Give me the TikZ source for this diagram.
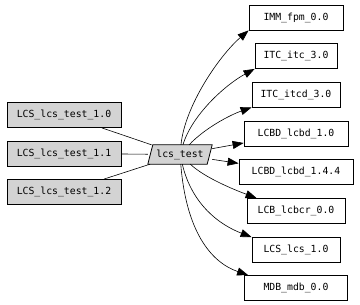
\documentclass[tikz,border=0pt]{standalone}
\usepackage{fontspec}
\setmonofont{DejaVu Sans Mono}
\usetikzlibrary{arrows.meta,backgrounds}
\definecolor{gvgray}{HTML}{D3D3D3}
\begin{document}
\begin{tikzpicture}[x=1pt,y=-1pt,
  lbl/.style={font=\ttfamily\fontsize{9.8}{12}\selectfont},
  box/.style={draw, line width=0.8pt, inner sep=0pt, minimum height=25pt, lbl},
  gbox/.style={box, fill=gvgray},
  pbox/.style={rectangle, inner sep=0pt, minimum width=64pt, minimum height=19pt, lbl},
  pshape/.style={draw, line width=0.8pt, fill=gvgray},
  edge/.style={line width=0.6pt},
  arr/.style={edge, -{Triangle[length=11pt,width=8pt]}}]
\useasboundingbox (0,0) rectangle (360,305);
% left nodes
\node[gbox, minimum width=114pt] (t10) at (64,115) {LCS\_lcs\_test\_1.0};
\node[gbox, minimum width=114pt] (t11) at (64,153.5) {LCS\_lcs\_test\_1.1};
\node[gbox, minimum width=114pt] (t12) at (64,192) {LCS\_lcs\_test\_1.2};
% center
\node[pbox] (c) at (180,154.5) {lcs\_test};
\begin{scope}[on background layer]
\path[pshape] (c.south west) -- ([xshift=-5pt]c.south east) -- (c.north east) -- ([xshift=5pt]c.north west) -- cycle;
\end{scope}
% right nodes
\node[box, minimum width=94pt] (imm) at (296,17.5) {IMM\_fpm\_0.0};
\node[box, minimum width=82pt] (itc) at (296,56) {ITC\_itc\_3.0};
\node[box, minimum width=88pt] (itcd) at (296,94.5) {ITC\_itcd\_3.0};
\node[box, minimum width=104pt] (lcbda) at (296,133.5) {LCBD\_lcbd\_1.0};
\node[box, minimum width=114pt] (lcbdb) at (296,172) {LCBD\_lcbd\_1.4.4};
\node[box, minimum width=98pt] (lcbcr) at (296,211) {LCB\_lcbcr\_0.0};
\node[box, minimum width=88pt] (lcs) at (296,250) {LCS\_lcs\_1.0};
\node[box, minimum width=103pt] (mdb) at (296,288) {MDB\_mdb\_0.0};
% left edges
\draw[edge] (t10) -- (c);
\draw[edge] (t11) -- (c);
\draw[edge] (t12) -- (c);
% right edges
\draw[arr] (c) .. controls (185,105) and (220,55) .. (imm.south west);
\draw[arr] (c) .. controls (192,115) and (225,85) .. (itc.south west);
\draw[arr] (c) .. controls (205,128) and (230,115) .. (itcd.south west);
\draw[arr] (c) -- (lcbda);
\draw[arr] (c) -- (lcbdb);
\draw[arr] (c) .. controls (205,178) and (235,190) .. ([xshift=10pt]lcbcr.north west);
\draw[arr] (c) .. controls (192,205) and (220,225) .. (lcs.north west);
\draw[arr] (c) .. controls (186,230) and (210,262) .. ([xshift=4pt]mdb.north west);
\end{tikzpicture}
\end{document}
